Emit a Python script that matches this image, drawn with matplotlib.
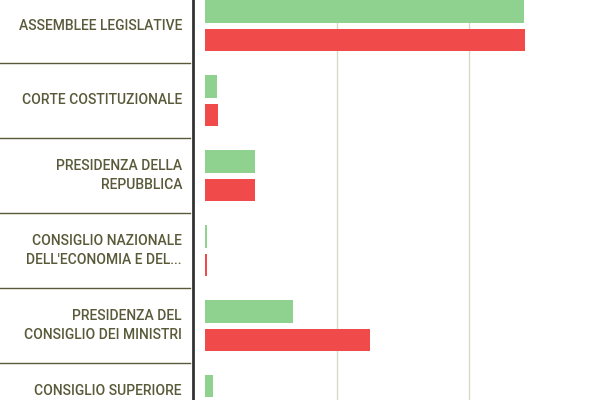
import matplotlib.pyplot as plt
from matplotlib.lines import Line2D
from matplotlib.transforms import blended_transform_factory
import numpy as np

categories = ["ASSEMBLEE LEGISLATIVE", "CORTE COSTITUZIONALE", "PRESIDENZA DELLA\nREPUBBLICA",
              "CONSIGLIO NAZIONALE\nDELL'ECONOMIA E DEL...", "PRESIDENZA DEL\nCONSIGLIO DEI MINISTRI",
              "CONSIGLIO SUPERIORE\nDELLA MAGISTRATURA"]
green_vals = [2420, 90, 380, 12, 665, 60]
red_vals = [2425, 100, 380, 12, 1250, 70]

px = 1000 / 132.0
fig = plt.figure(figsize=(6, 4), dpi=100)
ax = fig.add_axes([193 / 600, 0, 1 - 193 / 600, 1])
y = np.arange(len(categories))
ax.barh(y - 0.19, green_vals, height=0.3, color="#8fd18f")
ax.barh(y + 0.19, red_vals, height=0.3, color="#f04a4a")
ax.set_xlim(-12 * px, (600 - 193 - 12) * px)
ax.set_ylim((400 - 25.5) / 75, -25.5 / 75)
for g in [1000, 2000, 3000]:
    ax.axvline(g, color="#d8d8c4", lw=1, zorder=0)
for s in ["top", "right", "bottom"]:
    ax.spines[s].set_visible(False)
ax.spines["left"].set_color("#333333")
ax.spines["left"].set_linewidth(2)
ax.set_xticks([])
ax.set_yticks([])

tr = blended_transform_factory(fig.transFigure, ax.transData)
for i in range(len(categories)):
    fig.add_artist(Line2D([0, 190 / 600], [i + 0.5, i + 0.5], transform=tr, color="#5a5a3a", lw=1))
    fig.text(182 / 600, i, categories[i], transform=tr, ha="right", va="center",
             fontsize=10, color="#5a5a3a", family="Roboto", weight="medium", linespacing=1.5)

fig.savefig("out.png")
